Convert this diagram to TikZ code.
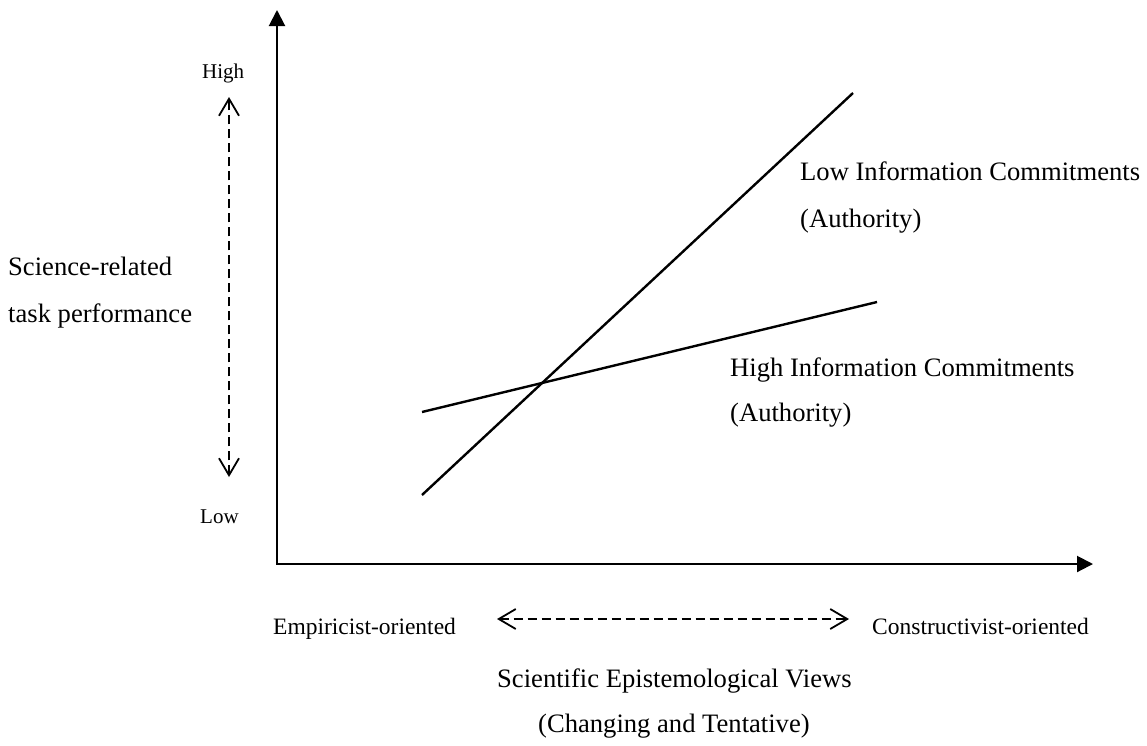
\documentclass[tikz,border=0pt]{standalone}
\usepackage{fontspec}
\setmainfont{Liberation Serif}
\usetikzlibrary{arrows.meta}
\begin{document}
\begin{tikzpicture}[x=1pt,y=-1pt,
  axis/.style={line width=2pt,-{Triangle[length=16pt,width=16pt]}},
  trend/.style={line width=2.4pt},
  guide/.style={line width=1.5pt,dash pattern=on 9pt off 5pt,
    {Straight Barb[length=17pt,width=20pt,line width=1.8pt]}-{Straight Barb[length=17pt,width=20pt,line width=1.8pt]}},
  big/.style={inner sep=0pt,anchor=base west,font=\fontsize{26.6}{30}\selectfont},
  small/.style={inner sep=0pt,anchor=base west,font=\fontsize{21}{25}\selectfont},
  mid/.style={inner sep=0pt,anchor=base west,font=\fontsize{23.5}{27}\selectfont}]
\useasboundingbox (0,0) rectangle (1147,745);

% axes
\coordinate (o) at (277,564);
\coordinate (ytop) at (277,10);
\coordinate (xend) at (1093,564);
\draw[axis] (o) -- (ytop);
\draw[axis] ([xshift=-1pt]o) -- (xend);

% trend lines
\coordinate (lowA) at (422,495);
\coordinate (lowB) at (853,93);
\coordinate (highA) at (422,412);
\coordinate (highB) at (877,302);
\draw[trend] (lowA) -- (lowB);
\draw[trend] (highA) -- (highB);

% vertical range guide
\coordinate (vtop) at (229,97);
\coordinate (vbot) at (229,477);
\draw[guide] (vbot) -- (vtop);

% horizontal range guide
\coordinate (hl) at (497,619);
\coordinate (hr) at (849,619);
\draw[guide] (hl) -- (hr);

% labels
\node[small] (high) at (202,78) {High};
\node[small] (low) at (200,523) {Low};
\node[big] (yl1) at (8,275) {Science-related};
\node[big] (yl2) at (8,322) {task performance};
\node[big] (lic1) at (800,180) {Low Information Commitments};
\node[big] (lic2) at (800,227) {(Authority)};
\node[big] (hic1) at (730,376) {High Information Commitments};
\node[big] (hic2) at (730,421) {(Authority)};
\node[mid] (emp) at (273,634) {Empiricist-oriented};
\node[mid] (con) at (872,634) {Constructivist-oriented};
\node[big] (sev1) at (497,687) {Scientific Epistemological Views};
\node[big] (sev2) at (538,732) {(Changing and Tentative)};
\end{tikzpicture}
\end{document}
